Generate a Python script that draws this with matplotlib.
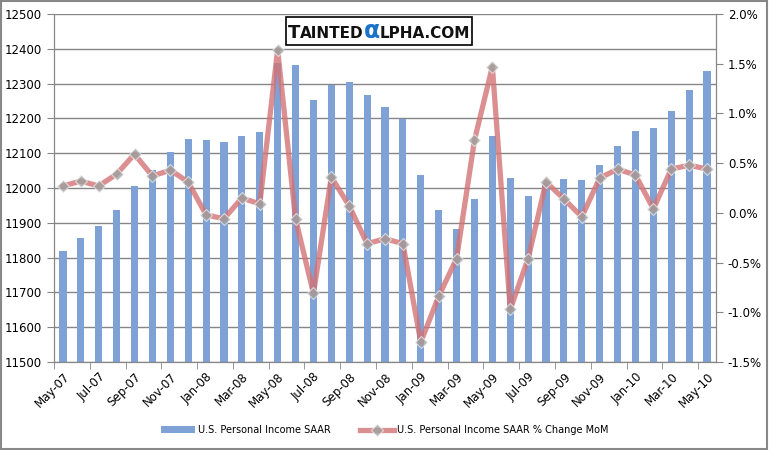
import numpy as np
import matplotlib.pyplot as plt
from matplotlib.patches import Rectangle
from matplotlib.offsetbox import TextArea, HPacker, AnchoredOffsetbox

months = ['May-07', 'Jun-07', 'Jul-07', 'Aug-07', 'Sep-07', 'Oct-07', 'Nov-07', 'Dec-07',
          'Jan-08', 'Feb-08', 'Mar-08', 'Apr-08', 'May-08', 'Jun-08', 'Jul-08', 'Aug-08',
          'Sep-08', 'Oct-08', 'Nov-08', 'Dec-08', 'Jan-09', 'Feb-09', 'Mar-09', 'Apr-09',
          'May-09', 'Jun-09', 'Jul-09', 'Aug-09', 'Sep-09', 'Oct-09', 'Nov-09', 'Dec-09',
          'Jan-10', 'Feb-10', 'Mar-10', 'Apr-10', 'May-10']

income = [11820, 11857, 11892, 11938, 12007, 12053, 12104, 12142,
          12139, 12133, 12150, 12162, 12359, 12354, 12254, 12297,
          12305, 12268, 12234, 12198, 12038, 11938, 11883, 11969,
          12148, 12029, 11976, 12015, 12027, 12024, 12065, 12120,
          12165, 12171, 12222, 12282, 12337]

pct_change = [0.27, 0.32, 0.27, 0.39, 0.59, 0.37, 0.43, 0.31,
              -0.02, -0.06, 0.15, 0.09, 1.64, -0.06, -0.81, 0.36,
              0.07, -0.31, -0.26, -0.31, -1.30, -0.84, -0.46, 0.73,
              1.47, -0.97, -0.46, 0.31, 0.14, -0.04, 0.35, 0.44,
              0.38, 0.04, 0.44, 0.48, 0.44]

label_bar = 'U.S. Personal Income SAAR'
label_line = 'U.S. Personal Income SAAR % Change MoM'

x = np.arange(len(months))
grid_c = '#868686'

fig = plt.figure(figsize=(7.69, 4.5), dpi=100)
ax = fig.add_axes([54/769, 88/450, 662/769, 348/450])
ax2 = ax.twinx()

b = ax.bar(x, income, width=0.4, color='#7EA1D6', zorder=2, label=label_bar)
ax.set_ylim(11500, 12500)
ax.set_yticks(np.arange(11500, 12501, 100))
ax.set_xlim(-0.5, len(months) - 0.5)
ax.yaxis.grid(True, color=grid_c, linewidth=1)
ax.set_axisbelow(True)

ax.set_xticks(x[::2])
ax.set_xticklabels(months[::2], rotation=45, ha='right', va='top', rotation_mode='anchor')
ax.set_xticks(np.arange(-0.5, len(months), 2), minor=True)
ax.tick_params(axis='x', which='major', length=0, pad=6, labelsize=8.5)
ax.tick_params(axis='x', which='minor', length=5, color=grid_c)
ax.tick_params(axis='y', length=5, color=grid_c, labelsize=8.5)

ln, = ax2.plot(x, pct_change, color='#D37374', alpha=0.8, linewidth=3.8,
               marker='D', markersize=6, markerfacecolor='#A0A0A0',
               markeredgecolor='#E8E8E8', markeredgewidth=0.8, label=label_line, zorder=3)
ax2.set_ylim(-1.5, 2.0)
ax2.set_yticks(np.arange(-1.5, 2.01, 0.5))
ax2.set_yticklabels(['%.1f%%' % v for v in np.arange(-1.5, 2.01, 0.5)])
ax2.tick_params(axis='y', length=5, color=grid_c, labelsize=8.5)

for a in (ax, ax2):
    for s in a.spines.values():
        s.set_color(grid_c)
    a.spines['top'].set_visible(False)

fig.legend([b, ln], [label_bar, label_line], loc='center', ncol=2,
           bbox_to_anchor=(0.5, 0.044), frameon=False, fontsize=7,
           handlelength=3.5, columnspacing=3, handletextpad=0.3)

# logo
parts = [TextArea('T', textprops=dict(fontsize=13, fontweight='bold', color='#111111')),
         TextArea('AINTED', textprops=dict(fontsize=11, fontweight='bold', color='#111111')),
         TextArea('\u03b1', textprops=dict(fontsize=17, fontweight='bold', color='#1A73C8')),
         TextArea('LPHA.COM', textprops=dict(fontsize=11, fontweight='bold', color='#111111'))]
box = HPacker(children=parts, align='baseline', pad=0, sep=0)
anch = AnchoredOffsetbox(loc='center', child=box, pad=0.15, frameon=True,
                         bbox_to_anchor=(379/769, 1 - 31/450), bbox_transform=fig.transFigure,
                         borderpad=0)
anch.patch.set_edgecolor('black')
anch.patch.set_linewidth(1.2)
fig.add_artist(anch)

fig.patches.append(Rectangle((0.001, 0.002), 0.997, 0.995, transform=fig.transFigure,
                             fill=False, edgecolor='#888888', linewidth=1.5))

fig.savefig('out.png', dpi=100)
